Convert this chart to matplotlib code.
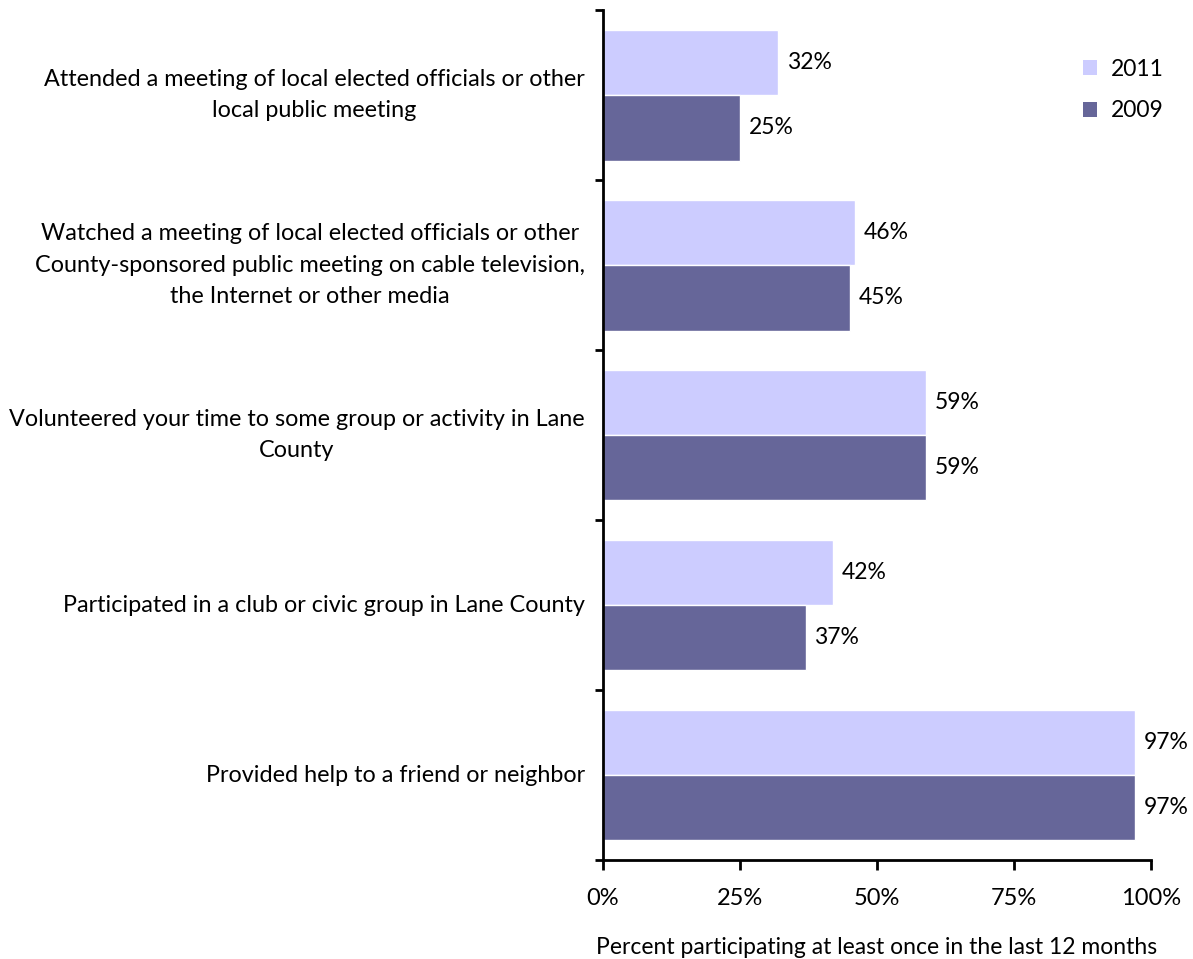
import matplotlib
matplotlib.use("Agg")
import matplotlib.pyplot as plt
from matplotlib.patches import Patch
import numpy as np

categories = [
    "Attended a meeting of local elected officials or other\nlocal public meeting",
    "Watched a meeting of local elected officials or other\nCounty-sponsored public meeting on cable television,\nthe Internet or other media",
    "Volunteered your time to some group or activity in Lane\nCounty",
    "Participated in a club or civic group in Lane County",
    "Provided help to a friend or neighbor",
]
values_2011 = [32, 46, 59, 42, 97]
values_2009 = [25, 45, 59, 37, 97]
series_names = ["2011", "2009"]
x_ticks = [0, 25, 50, 75, 100]
x_label = "Percent participating at least once in the last 12 months"

color_2011 = "#CCCCFF"
color_2009 = "#666699"
sans = "Lato"

fig = plt.figure(figsize=(11.93, 9.59), dpi=100)
ax = fig.add_axes([0.5054, 0.1032, 0.4594, 0.8863])

n = len(categories)
y = np.arange(n)
h = 0.385
ax.barh(y - h / 2, values_2011, height=h, color=color_2011, edgecolor="white", linewidth=1)
ax.barh(y + h / 2, values_2009, height=h, color=color_2009, edgecolor="white", linewidth=1)

for i in range(n):
    ax.text(values_2011[i] + 1.6, y[i] - h / 2, f"{values_2011[i]}%", va="center", ha="left",
            fontsize=16.5, family=sans, color="black")
    ax.text(values_2009[i] + 1.6, y[i] + h / 2, f"{values_2009[i]}%", va="center", ha="left",
            fontsize=16.5, family=sans, color="black")

ax.set_ylim(n - 0.5, -0.5)
ax.set_xlim(0, 100)

# Category labels, right-aligned with centred lines
ax.set_yticks([])
for i, c in enumerate(categories):
    ax.text(-3.3, y[i], c, ha="right", va="center", multialignment="center",
            fontsize=16.8, family=sans, color="black", linespacing=1.6)

# Category boundary ticks on the y axis
ax.set_yticks(np.arange(n + 1) - 0.5, minor=True)
ax.tick_params(axis="y", which="minor", direction="out", length=6, width=2, left=True)

ax.set_xticks(x_ticks)
ax.set_xticklabels([f"{t}%" for t in x_ticks], family=sans, fontsize=17)
ax.tick_params(axis="x", direction="out", length=7, width=2, pad=13)
ax.set_xlabel(x_label, family=sans, fontsize=16.5, labelpad=20)

for s in ["top", "right"]:
    ax.spines[s].set_visible(False)
for s in ["left", "bottom"]:
    ax.spines[s].set_linewidth(2)

handles = [Patch(facecolor=color_2011), Patch(facecolor=color_2009)]
ax.legend(handles, series_names, loc="upper right", bbox_to_anchor=(1.06, 0.967), frameon=False,
          prop={"family": sans, "size": 16.5}, handlelength=0.6, handleheight=0.6,
          handletextpad=0.6, labelspacing=0.9)

fig.savefig("out.png", dpi=100)
